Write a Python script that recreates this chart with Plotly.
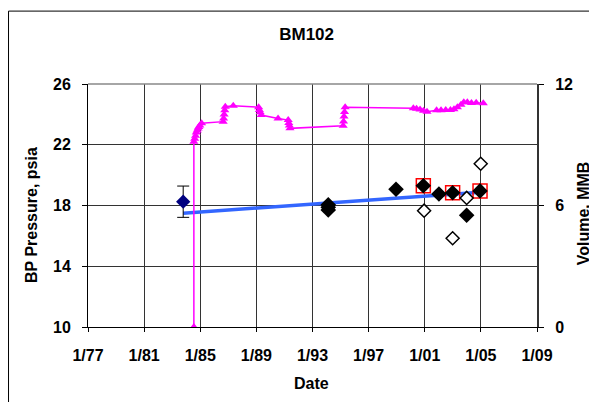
import plotly.graph_objects as go

# ---- data ----
vol_dates = ["1984-07-19", "1984-07-19", "1984-08-10", "1984-09-01", "1984-09-20", "1984-10-15",
             "1984-11-05", "1984-11-25", "1984-12-20", "1985-02-05", "1986-08-20", "1986-09-01",
             "1986-09-15", "1986-10-01", "1986-10-15", "1987-05-10", "1989-03-01", "1989-03-20",
             "1989-04-10", "1989-05-05", "1990-07-20", "1991-04-10", "1991-04-25", "1991-05-10",
             "1991-05-25", "1995-03-10", "1995-03-20", "1995-04-01", "1995-04-15", "1995-05-01",
             "2000-03-10", "2000-06-01", "2000-09-01", "2000-12-01", "2001-03-01", "2001-11-05",
             "2002-03-01", "2002-07-01", "2002-11-01", "2003-02-01", "2003-05-01", "2003-08-01",
             "2003-10-15", "2004-01-15", "2004-05-01", "2004-09-01", "2005-03-05"]
vol_mmb = [0, 9.15, 9.3, 9.45, 9.6, 9.7, 9.8, 9.88, 9.95, 10.06, 10.14, 10.3,
           10.5, 10.7, 10.88, 10.93, 10.85, 10.72, 10.6, 10.47, 10.3, 10.22, 10.08, 9.95,
           9.81, 9.94, 10.15, 10.4, 10.62, 10.85,
           10.8, 10.78, 10.74, 10.68, 10.63, 10.7,
           10.7, 10.72, 10.72, 10.75, 10.85, 10.98,
           11.1, 11.1, 11.06, 11.08, 11.05]

trend_dates = ["1983-10-15", "2004-12-10"]
trend_psia = [17.49, 18.87]

init_date = ["1983-10-15"]
init_psia = [18.25]
init_err = [1.03]

meas_dates = ["1994-02-15", "1994-02-15", "1994-02-15", "1998-12-15", "2000-11-25",
              "2002-01-05", "2002-12-28", "2003-12-28", "2004-12-10"]
meas_psia = [18.05, 17.88, 17.7, 19.07, 19.3, 18.76, 18.84, 17.36, 18.96]

open_dates = ["2000-12-15", "2002-12-28", "2003-12-28", "2004-12-28"]
open_psia = [17.66, 15.84, 18.5, 20.75]

red_dates = ["2000-11-25", "2002-12-28", "2004-12-10"]
red_psia = [19.3, 18.84, 18.96]

x_ticks = ["1977-01-01", "1981-01-01", "1985-01-01", "1989-01-01", "1993-01-01",
           "1997-01-01", "2001-01-01", "2005-01-01", "2009-01-01"]

FONT = "Liberation Sans, Arial, sans-serif"

fig = go.Figure()

fig.add_trace(go.Scatter(x=vol_dates, y=vol_mmb, yaxis="y2", mode="lines+markers",
                         line=dict(color="#ff00ff", width=1.5),
                         marker=dict(symbol="triangle-up", size=8, color="#ff00ff"),
                         showlegend=False))
fig.add_trace(go.Scatter(x=trend_dates, y=trend_psia, mode="lines",
                         line=dict(color="#3366ff", width=3.5), showlegend=False))
fig.add_trace(go.Scatter(x=init_date, y=init_psia, mode="markers",
                         marker=dict(symbol="diamond", size=11, color="#000080"),
                         error_y=dict(type="data", array=init_err, color="black",
                                      thickness=1, width=6),
                         showlegend=False))
fig.add_trace(go.Scatter(x=red_dates, y=red_psia, mode="markers",
                         marker=dict(symbol="square-open", size=14, color="red",
                                     line=dict(width=1.5, color="red")),
                         showlegend=False))
fig.add_trace(go.Scatter(x=meas_dates, y=meas_psia, mode="markers",
                         marker=dict(symbol="diamond", size=12, color="black"),
                         showlegend=False))
fig.add_trace(go.Scatter(x=open_dates, y=open_psia, mode="markers",
                         marker=dict(symbol="diamond", size=10, color="white",
                                     line=dict(width=1.5, color="black")),
                         showlegend=False))

tickfont = dict(family=FONT, size=16, color="black", weight="bold")
titlefont = dict(family=FONT, size=16, color="black", weight="bold")

fig.update_layout(
    width=589, height=394,
    margin=dict(l=80, r=60, t=76, b=75, autoexpand=False),
    paper_bgcolor="white", plot_bgcolor="white",
    title=dict(text="BM102", x=0.507, xanchor="center", y=0.933, yanchor="middle",
               font=dict(family=FONT, size=17, color="black", weight="bold")),
    xaxis=dict(type="date", range=["1977-01-01", "2009-01-01"], tickvals=x_ticks,
               tickformat="%-m/%y", tickfont=tickfont, ticklabelstandoff=10,
               automargin=False,
               showgrid=True, gridcolor="#333333", gridwidth=1,
               showline=True, linecolor="black", linewidth=1, mirror=False,
               ticks="outside", ticklen=4, tickcolor="black", zeroline=False),
    yaxis=dict(range=[10, 26], tickvals=[10, 14, 18, 22, 26], tickfont=tickfont,
               ticklabelstandoff=8, automargin=False,
               showgrid=True, gridcolor="#333333", gridwidth=1,
               showline=True, linecolor="black", linewidth=1,
               ticks="outside", ticklen=5, tickcolor="black", zeroline=False),
    yaxis2=dict(range=[0, 12], tickvals=[0, 6, 12], overlaying="y", side="right",
                tickfont=tickfont, ticklabelstandoff=8, automargin=False,
                showgrid=False, showline=True, linecolor="#333333", linewidth=2,
                ticks="outside", ticklen=5, tickcolor="black", zeroline=False),
    annotations=[
        dict(text="BP Pressure, psia", xref="paper", yref="paper", x=-0.1247, y=0.461,
             textangle=-90, showarrow=False, font=titlefont, xanchor="center", yanchor="middle"),
        dict(text="Volume, MMB", xref="paper", yref="paper", x=1.103, y=0.469,
             textangle=-90, showarrow=False, font=titlefont, xanchor="center", yanchor="middle"),
        dict(text="Date", xref="paper", yref="paper", x=0.498, y=-0.2305,
             showarrow=False, font=titlefont, xanchor="center", yanchor="middle"),
    ],
    shapes=[
        dict(type="rect", xref="paper", yref="paper", x0=-0.177, x1=1.3, y0=-0.5, y1=1.3,
             line=dict(color="black", width=1), fillcolor="rgba(0,0,0,0)", layer="below"),
        dict(type="line", xref="paper", yref="paper", x0=0, x1=1, y0=1, y1=1,
             line=dict(color="#888888", width=1.5)),
    ],
)

fig.write_html("out.html")
